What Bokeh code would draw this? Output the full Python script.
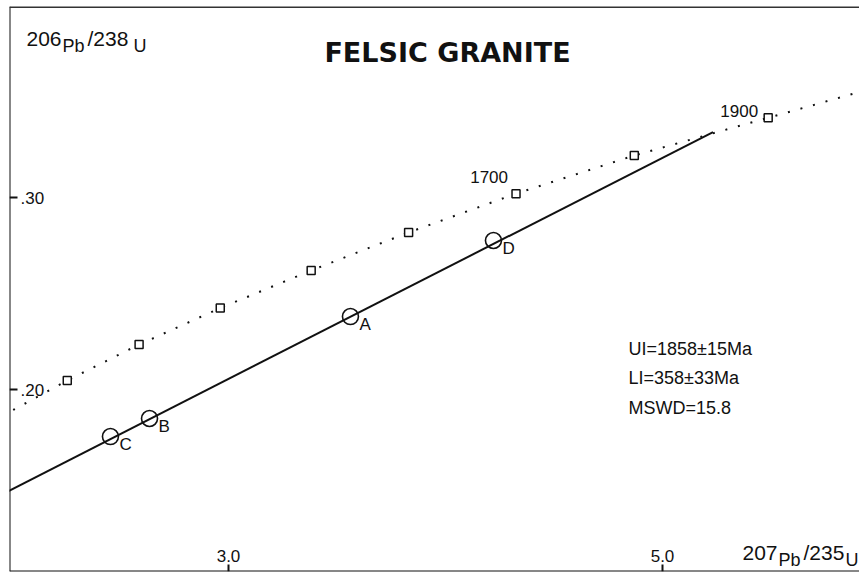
import numpy as np
from bokeh.plotting import figure
from bokeh.models import Range1d, Span
from bokeh.embed import file_html
from bokeh.resources import INLINE
from bokeh.core.properties import value

# ---- data ----
# Concordia curve (age in Ma, 207Pb/235U, 206Pb/238U)
concordia_age = [1100, 1200, 1300, 1400, 1500, 1600, 1700, 1800, 1900, 2000]
concordia_x = [1.955, 2.257, 2.588, 2.962, 3.381, 3.830, 4.325, 4.870, 5.487, 6.160]
concordia_y = [0.1861, 0.2047, 0.2234, 0.2424, 0.2620, 0.2818, 0.3020, 0.3219, 0.3415, 0.3630]
# squares are drawn at 1200..1900 Ma
square_age = [1200, 1300, 1400, 1500, 1600, 1700, 1800, 1900]

# Discordia: lower intercept 358 Ma to upper intercept 1858 Ma
discordia_x = [0.4227, 5.233]
discordia_y = [0.0571, 0.3341]

# Zircon fractions
samples = ["A", "B", "C", "D"]
sample_x = [3.562, 2.636, 2.456, 4.221]
sample_y = [0.2380, 0.1849, 0.1755, 0.2776]

x_ticks = [3.0, 5.0]
x_tick_labels = ["3.0", "5.0"]
y_ticks = [0.20, 0.30]
y_tick_labels = [".20", ".30"]

stats = ["UI=1858\u00b115Ma", "LI=358\u00b133Ma", "MSWD=15.8"]
title = "FELSIC GRANITE"

# ---- figure ----
X0, X1 = 1.99078, 5.90783
Y0, Y1 = 0.10521, 0.39948
FONT = value("Liberation Sans")
INK = "#111111"

p = figure(width=859, height=572, output_backend="svg", toolbar_location=None,
           x_range=Range1d(X0, X1), y_range=Range1d(Y0, Y1),
           x_axis_location=None, y_axis_location=None,
           min_border_left=9, min_border_right=0, min_border_top=6, min_border_bottom=1)
p.grid.visible = False
p.outline_line_color = None
p.background_fill_color = "white"
p.border_fill_color = "white"

# frame lines (left, bottom, top)
p.add_layout(Span(location=X0, dimension="height", line_color=INK, line_width=2))
p.add_layout(Span(location=Y0, dimension="width", line_color=INK, line_width=2))
p.add_layout(Span(location=Y1, dimension="width", line_color="#333333", line_width=3))

sq_idx = [concordia_age.index(a) for a in square_age]
sq_x = [concordia_x[i] for i in sq_idx]
sq_y = [concordia_y[i] for i in sq_idx]

# concordia (dotted) with 100 Ma squares
p.line(concordia_x, concordia_y, line_color=INK, line_width=2, line_dash="2 11")
p.scatter(sq_x, sq_y, marker="square", size=8, fill_color="white",
          line_color=INK, line_width=1.5)

# discordia
p.line(discordia_x, discordia_y, line_color=INK, line_width=2)

# samples
p.scatter(sample_x, sample_y, marker="circle", size=16, fill_color=None,
          line_color=INK, line_width=1.6)
p.text(sample_x, sample_y, text=samples, x_offset=9, y_offset=8,
       text_font=FONT, text_font_size="17px", text_color=INK,
       text_baseline="alphabetic", text_align="left")

# age labels
i1700 = concordia_age.index(1700)
i1900 = concordia_age.index(1900)
p.text([concordia_x[i1700]], [concordia_y[i1700]], text=[str(concordia_age[i1700])],
       x_offset=-8, y_offset=-17, text_font=FONT, text_font_size="17px",
       text_color=INK, text_align="right", text_baseline="alphabetic")
p.text([concordia_x[i1900]], [concordia_y[i1900]], text=[str(concordia_age[i1900])],
       x_offset=-10, y_offset=-7, text_font=FONT, text_font_size="17px",
       text_color=INK, text_align="right", text_baseline="alphabetic")

# ticks (inward) and their labels inside the frame
p.ray(x_ticks, [Y0] * len(x_ticks), length=7, length_units="screen",
      angle=np.pi / 2, line_color=INK, line_width=2)
p.ray([X0] * len(y_ticks), y_ticks, length=8, length_units="screen",
      angle=0, line_color=INK, line_width=2)
p.text(x_ticks, [Y0] * len(x_ticks), text=x_tick_labels, y_offset=-16,
       text_font=FONT, text_font_size="17px", text_color=INK,
       text_align="center", text_baseline="alphabetic")
p.text([X0] * len(y_ticks), y_ticks, text=y_tick_labels, x_offset=11, y_offset=0,
       text_font=FONT, text_font_size="17px", text_color=INK,
       text_align="left", text_baseline="alphabetic")

# title
p.text([X0], [Y1], text=[title], x_offset=438, y_offset=46,
       text_font=value("DejaVu Sans"), text_font_style="bold", text_font_size="27px",
       text_color=INK, text_align="center", text_baseline="alphabetic")

# axis labels (isotope notation)
def piece(x, y, s, dx, dy, size="21px"):
    p.text([x], [y], text=[s], x_offset=dx, y_offset=dy, text_font=FONT,
           text_font_size=size, text_color=INK, text_align="left",
           text_baseline="alphabetic")

piece(X0, Y1, "206", 17, 32)
piece(X0, Y1, "Pb", 53, 39, "18px")
piece(X0, Y1, "/238", 78, 32)
piece(X0, Y1, "U", 124, 39, "18px")

piece(X1, Y0, "207", -117, -19)
piece(X1, Y0, "Pb", -81, -12, "18px")
piece(X1, Y0, "/235", -56, -19)
piece(X1, Y0, "U", -14, -12, "18px")

# statistics
for k, s in enumerate(stats):
    p.text([X0], [Y1], text=[s], x_offset=619, y_offset=342 + 29.5 * k,
           text_font=FONT, text_font_size="18px", text_color=INK,
           text_align="left", text_baseline="alphabetic")

open("out.html", "w").write(file_html(p, INLINE))
